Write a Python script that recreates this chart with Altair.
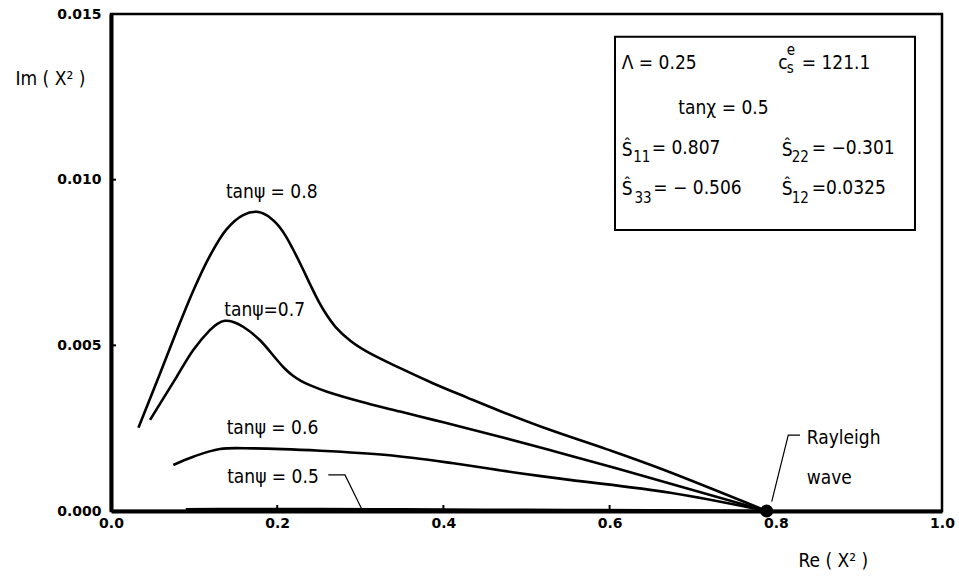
import altair as alt
import pandas as pd

# Dispersion curves: Re(X^2) against Im(X^2) for several tan(psi)
re_08 = [0.033, 0.059, 0.079, 0.099, 0.119, 0.139, 0.159, 0.175, 0.187, 0.199, 0.209,
         0.219, 0.230, 0.240, 0.250, 0.260, 0.270, 0.288, 0.308, 0.348, 0.388, 0.428,
         0.468, 0.528, 0.597, 0.661, 0.789]
im_08 = [0.00251, 0.00415, 0.00543, 0.00665, 0.00770, 0.00850, 0.00893, 0.00903, 0.00893,
         0.00868, 0.00835, 0.00790, 0.00735, 0.00682, 0.00632, 0.00590, 0.00556, 0.00514,
         0.00481, 0.00431, 0.00385, 0.00343, 0.00302, 0.00245, 0.00186, 0.00128, 0.0]

re_07 = [0.047, 0.079, 0.099, 0.119, 0.128, 0.137, 0.148, 0.159, 0.179, 0.199, 0.209,
         0.219, 0.229, 0.240, 0.260, 0.308, 0.348, 0.388, 0.428, 0.468, 0.528, 0.609, 0.789]
im_07 = [0.00275, 0.00405, 0.00486, 0.00546, 0.00565, 0.00574, 0.00570, 0.00556, 0.00516,
         0.00458, 0.00430, 0.00408, 0.00392, 0.00379, 0.00360, 0.00325, 0.00300, 0.00275,
         0.00250, 0.00224, 0.00184, 0.00128, 0.0]

re_06 = [0.075, 0.099, 0.131, 0.171, 0.252, 0.332, 0.412, 0.492, 0.552, 0.673, 0.789]
im_06 = [0.00139, 0.00164, 0.00187, 0.00189, 0.00182, 0.00169, 0.00144, 0.00114, 0.00094,
         0.00055, 0.0]

re_05 = [0.09, 0.15, 0.25, 0.35, 0.45, 0.55, 0.65, 0.789]
im_05 = [0.00005, 0.00006, 0.00006, 0.00005, 0.00004, 0.00003, 0.00002, 0.0]

# Rayleigh wave root
rayleigh_re = [0.789]
rayleigh_im = [0.0]

x_ticks = [0.0, 0.2, 0.4, 0.6, 0.8, 1.0]
y_ticks = [0.0, 0.005, 0.010, 0.015]

FONT = "DejaVu Sans Condensed, DejaVu Sans"
TICK_FONT = "DejaVu Sans"

curves = pd.concat([
    pd.DataFrame({"re": re_08, "im": im_08, "psi": "0.8"}),
    pd.DataFrame({"re": re_07, "im": im_07, "psi": "0.7"}),
    pd.DataFrame({"re": re_06, "im": im_06, "psi": "0.6"}),
    pd.DataFrame({"re": re_05, "im": im_05, "psi": "0.5"}),
], ignore_index=True)

X = alt.X("re:Q", scale=alt.Scale(domain=[0, 1], nice=False, zero=False),
          axis=alt.Axis(values=x_ticks, format=".1f", ticks=False, grid=False,
                        labelFont=TICK_FONT, labelFontSize=14, labelFontWeight="bold",
                        labelPadding=5, labelOverlap=False, labelFlush=False,
                        domainColor="black", domainWidth=4, labelColor="black",
                        title="Re ( X² )", titleFont=FONT, titleFontSize=19,
                        titleFontWeight="normal", titleColor="black",
                        titleX=687, titleY=49, titleAlign="left", titleBaseline="middle"))
Y = alt.Y("im:Q", scale=alt.Scale(domain=[0, 0.015], nice=False, zero=False),
          axis=alt.Axis(values=y_ticks, format=".3f", ticks=False, grid=False,
                        labelFont=TICK_FONT, labelFontSize=14, labelFontWeight="bold",
                        labelPadding=10, labelOverlap=False, labelFlush=False,
                        domainColor="black", domainWidth=4, labelColor="black",
                        title="Im ( X² )", titleFont=FONT, titleFontSize=19,
                        titleFontWeight="normal", titleColor="black", titleAngle=0,
                        titleX=-96, titleY=64, titleAlign="left", titleBaseline="middle"))

base = alt.Chart(curves)

lines = base.mark_line(color="black", strokeWidth=2.6, interpolate="catmull-rom").encode(
    x=X, y=Y, detail="psi:N", order="re:Q")

# small inward ticks on the two axes
xt = pd.DataFrame({"re": [0.2, 0.4, 0.6], "im": [0.0] * 3, "im2": [0.00018] * 3})
yt = pd.DataFrame({"re": [0.0] * 2, "re2": [0.006] * 2, "im": [0.005, 0.010]})
xtick_marks = alt.Chart(xt).mark_rule(color="black", strokeWidth=2).encode(
    x="re:Q", y="im:Q", y2="im2:Q")
ytick_marks = alt.Chart(yt).mark_rule(color="black", strokeWidth=2).encode(
    x="re:Q", x2="re2:Q", y="im:Q")

dot = alt.Chart(pd.DataFrame({"re": rayleigh_re, "im": rayleigh_im})).mark_circle(
    color="black", opacity=1, size=170).encode(x="re:Q", y="im:Q")

# curve labels
psi_labels = pd.DataFrame({
    "text": ["tanψ = 0.8", "tanψ=0.7", "tanψ = 0.6", "tanψ = 0.5"],
    "re": [0.1934, 0.1849, 0.1943, 0.1949],
    "im": [0.00964, 0.00607, 0.00250, 0.00104],
})
psi_text = alt.Chart(psi_labels).mark_text(
    font=FONT, fontSize=19, align="center", baseline="middle", color="black").encode(
    x="re:Q", y="im:Q", text="text:N")

ray_labels = pd.DataFrame({"text": ["Rayleigh", "wave"],
                           "re": [0.8372, 0.8372], "im": [0.00219, 0.00100]})
ray_text = alt.Chart(ray_labels).mark_text(
    font=FONT, fontSize=19, align="left", baseline="middle", color="black").encode(
    x="re:Q", y="im:Q", text="text:N")

leaders = pd.DataFrame({
    "re": [0.2615, 0.2816, 0.3017, 0.8291, 0.8150, 0.7951],
    "im": [0.00109, 0.00109, 0.00006, 0.00229, 0.00229, 0.00028],
    "grp": ["a", "a", "a", "b", "b", "b"],
    "k": [0, 1, 2, 0, 1, 2],
})
leader_lines = alt.Chart(leaders).mark_line(color="black", strokeWidth=1.2).encode(
    x="re:Q", y="im:Q", detail="grp:N", order="k:Q")

# parameter box
box = alt.Chart(pd.DataFrame({"re": [0.6065], "re2": [0.9675],
                              "im": [0.00848], "im2": [0.01431]})).mark_rect(
    fill="white", stroke="black", strokeWidth=2).encode(
    x="re:Q", x2="re2:Q", y="im:Q", y2="im2:Q")

box_main = pd.DataFrame({
    "text": ["Λ = 0.25", "c", "= 121.1", "tanχ = 0.5",
             "Ŝ", "= 0.807", "Ŝ", "= −0.301",
             "Ŝ", "= − 0.506", "Ŝ", "=0.0325"],
    "re": [0.6146, 0.8030, 0.8312, 0.6827,
           0.6146, 0.6507, 0.8071, 0.8432,
           0.6146, 0.6526, 0.8071, 0.8432],
    "im": [0.01351, 0.01351, 0.01351, 0.01215,
           0.01091, 0.01096, 0.01091, 0.01096,
           0.00972, 0.00975, 0.00972, 0.00975],
})
box_small = pd.DataFrame({
    "text": ["e", "s", "11", "22", "33", "12"],
    "re": [0.8131, 0.8131, 0.6284, 0.8191, 0.6299, 0.8191],
    "im": [0.01391, 0.01337, 0.01069, 0.01069, 0.00946, 0.00946],
})
box_text = alt.Chart(box_main).mark_text(
    font=FONT, fontSize=19, align="left", baseline="middle", color="black").encode(
    x="re:Q", y="im:Q", text="text:N")
box_sub = alt.Chart(box_small).mark_text(
    font=FONT, fontSize=15, align="left", baseline="middle", color="black").encode(
    x="re:Q", y="im:Q", text="text:N")

chart = alt.layer(
    lines, xtick_marks, ytick_marks, leader_lines, dot,
    psi_text, ray_text, box, box_text, box_sub
).properties(
    width=831, height=497,
    padding={"left": 111, "top": 14, "right": 17, "bottom": 67},
    autosize=alt.AutoSizeParams(type="none"),
    background="white",
).configure_view(stroke="black", strokeWidth=2.5)

chart.save("out.html", embed_options={"renderer": "svg", "actions": False})
